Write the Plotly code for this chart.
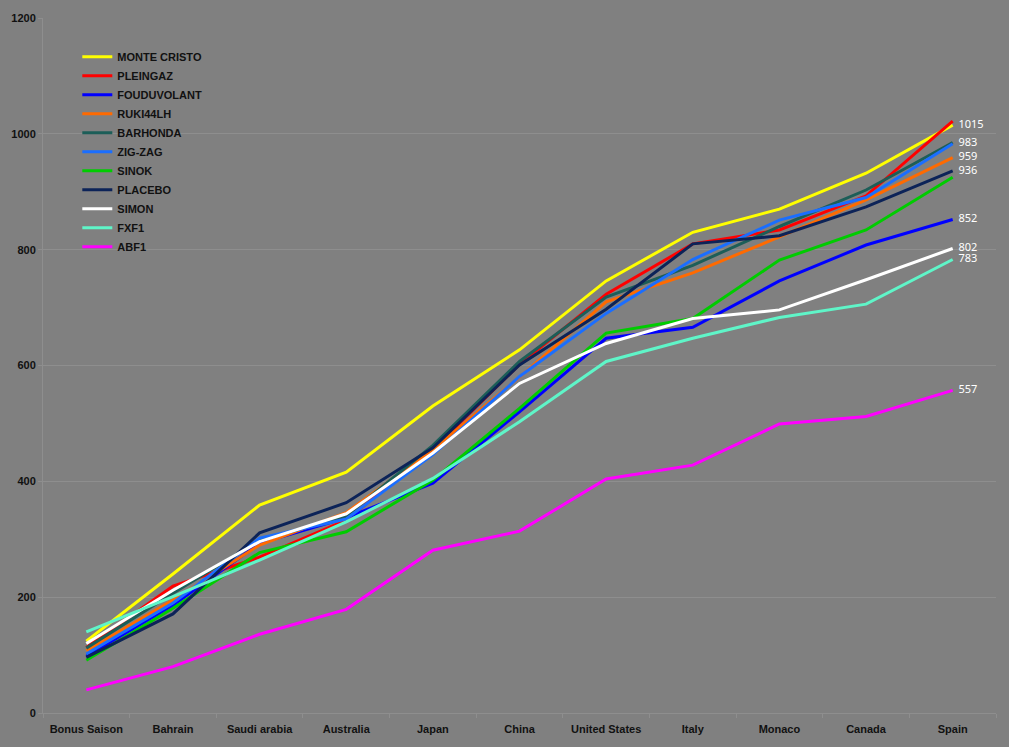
import plotly.graph_objects as go

categories = ["Bonus Saison", "Bahrain", "Saudi arabia", "Australia", "Japan", "China",
              "United States", "Italy", "Monaco", "Canada", "Spain"]

monte_cristo = [124, 240, 359, 416, 530, 627, 746, 830, 870, 932, 1015]
pleingaz     = [113, 219, 269, 333, 455, 602, 723, 810, 834, 893, 1022]
fouduvolant  = [98, 186, 293, 337, 397, 520, 647, 666, 746, 808, 852]
ruki44lh     = [108, 195, 290, 346, 455, 580, 710, 760, 822, 886, 959]
barhonda     = [112, 207, 298, 340, 462, 607, 718, 773, 840, 903, 985]
zig_zag      = [102, 190, 302, 335, 446, 581, 690, 783, 851, 890, 983]
sinok        = [91, 181, 277, 313, 402, 526, 656, 681, 782, 834, 925]
placebo      = [96, 171, 311, 363, 458, 601, 697, 810, 824, 874, 936]
simon        = [120, 212, 296, 344, 449, 569, 638, 681, 696, 748, 802]
fxf1         = [140, 201, 264, 330, 405, 503, 607, 647, 683, 706, 783]
abf1         = [40, 80, 136, 179, 281, 314, 404, 428, 499, 512, 557]

series = [
    ("MONTE CRISTO", monte_cristo, "#FFFF00", True),
    ("PLEINGAZ", pleingaz, "#FF0000", False),
    ("FOUDUVOLANT", fouduvolant, "#0000FF", True),
    ("RUKI44LH", ruki44lh, "#FF6A00", True),
    ("BARHONDA", barhonda, "#1C5E58", False),
    ("ZIG-ZAG", zig_zag, "#1A6EFF", True),
    ("SINOK", sinok, "#00CC00", False),
    ("PLACEBO", placebo, "#0C2358", True),
    ("SIMON", simon, "#FFFFFF", True),
    ("FXF1", fxf1, "#5FF5C8", True),
    ("ABF1", abf1, "#FF00FF", True),
]

fig = go.Figure()
for name, vals, color, labeled in series:
    texts = [""] * (len(vals) - 1) + [("  " + str(vals[-1])) if labeled else ""]
    fig.add_trace(go.Scatter(
        x=categories, y=vals, name=name, mode="lines+text",
        line=dict(color=color, width=3),
        text=texts, textposition="middle right",
        textfont=dict(color="white", size=11, family="Noto Sans"),
        cliponaxis=False,
    ))

fig.update_layout(
    width=1009, height=747,
    paper_bgcolor="#808080", plot_bgcolor="#808080",
    margin=dict(l=43, r=13, t=18, b=34),
    showlegend=True,
    legend=dict(x=0.036, y=0.965, xanchor="left", yanchor="top",
                bgcolor="rgba(0,0,0,0)",
                font=dict(family="Liberation Sans", size=11, color="#111111", weight="bold"),
                tracegroupgap=0, itemwidth=30),
    font=dict(family="Liberation Sans"),
)
fig.update_xaxes(
    type="category", tickson="boundaries", showgrid=False,
    showline=True, linecolor="#8E8E8E", linewidth=1,
    ticks="outside", ticklen=4, tickcolor="#8E8E8E",
    ticklabelstandoff=6,
    tickfont=dict(family="Liberation Sans", size=11, color="#111111", weight="bold"),
    range=[-0.5, 10.5],
)
fig.update_yaxes(
    range=[0, 1200], dtick=200, showgrid=True, gridcolor="#8E8E8E", gridwidth=1,
    showline=True, linecolor="#8E8E8E", linewidth=1,
    ticks="outside", ticklen=4, tickcolor="#8E8E8E",
    tickfont=dict(family="Liberation Sans", size=11, color="#111111", weight="bold"),
    zeroline=False,
)

fig.write_html(
    "out.html",
    config={"displayModeBar": False},
    post_script="document.body.style.margin='0';document.body.style.background='#808080';",
)
